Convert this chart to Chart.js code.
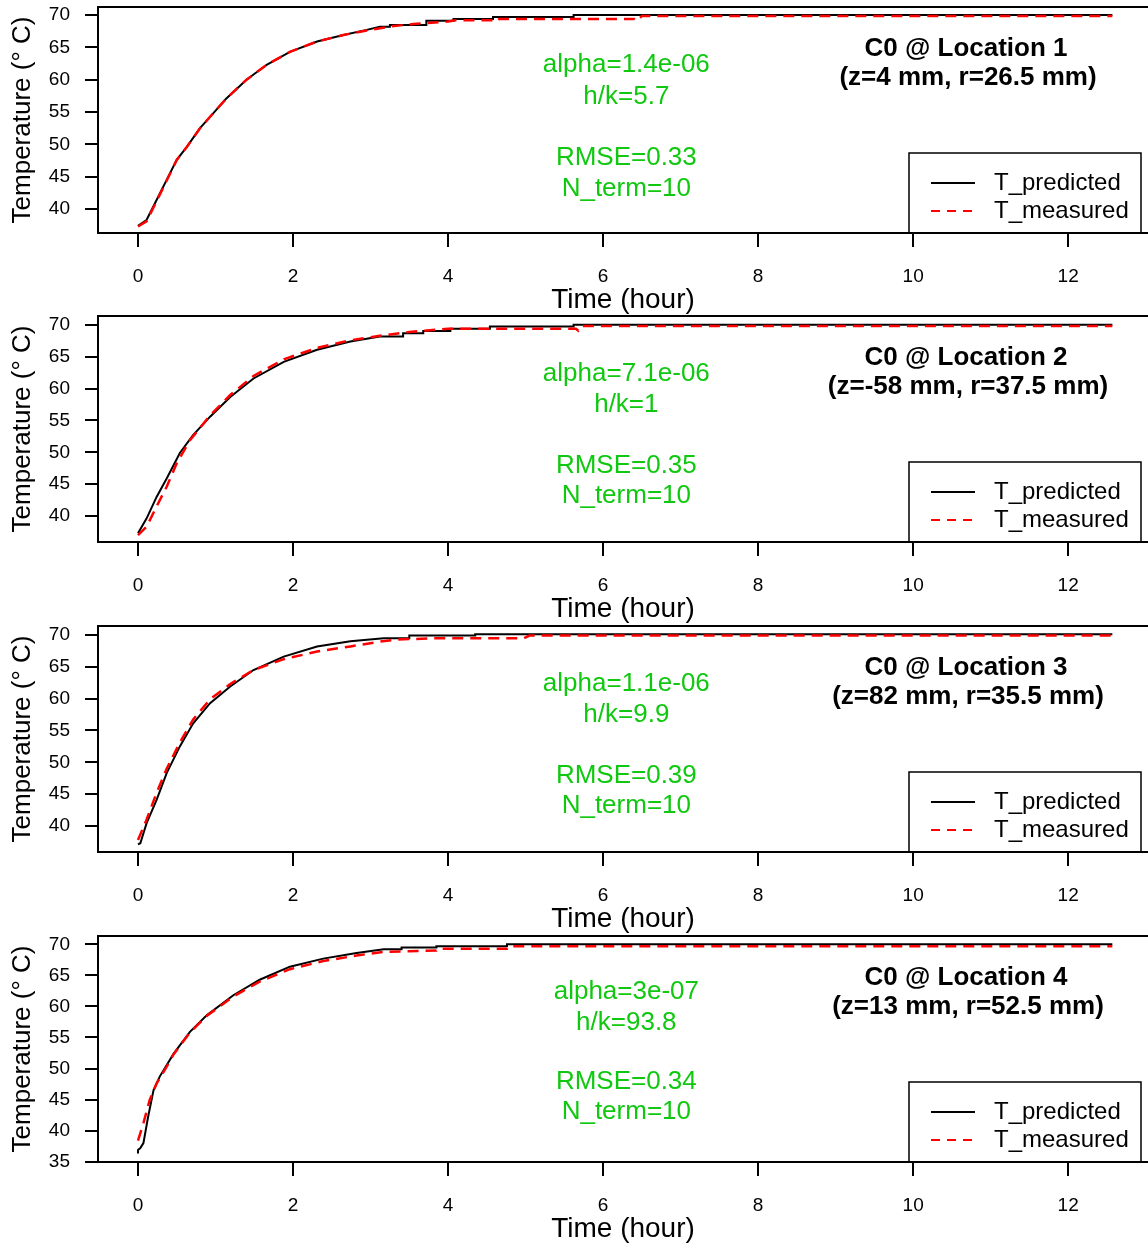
<!DOCTYPE html>
<html>
<head>
<meta charset="utf-8">
<script src="https://cdn.jsdelivr.net/npm/chart.js@4.4.0/dist/chart.umd.min.js"></script>
<style>
  html, body { margin: 0; padding: 0; background: #fff; }
  #wrap { position: relative; width: 1148px; height: 1245px; overflow: hidden; }
  .panel { position: absolute; left: 0; width: 1148px; height: 320px; }
</style>
</head>
<body>
<div id="wrap">
  <div class="panel" style="top:0px"><canvas id="c1" width="1148" height="320"></canvas></div>
  <div class="panel" style="top:309px"><canvas id="c2" width="1148" height="320"></canvas></div>
  <div class="panel" style="top:619px"><canvas id="c3" width="1148" height="320"></canvas></div>
  <div class="panel" style="top:929px"><canvas id="c4" width="1148" height="320"></canvas></div>
</div>
<script>
// time in hours, temperature in deg C
const predTime1 = [0, 0.11, 0.24, 0.37, 0.5, 0.63, 0.8, 0.97, 1.14, 1.4, 1.66, 1.96, 2.31, 2.65, 2.95, 3.12, 3.25, 3.25, 3.72, 3.72, 4.07, 4.07, 4.58, 4.58, 5.62, 5.62, 12.57];
const predTemp1 = [37.4, 38.3, 41.4, 44.5, 47.6, 49.6, 52.5, 54.8, 57.1, 60.0, 62.3, 64.3, 65.9, 66.9, 67.7, 68.2, 68.2, 68.45, 68.45, 69.1, 69.1, 69.4, 69.4, 69.7, 69.7, 70.0, 70.0];
const measTime1 = [0, 0.11, 0.24, 0.37, 0.5, 0.63, 0.8, 0.97, 1.14, 1.4, 1.66, 1.96, 2.31, 2.65, 2.95, 3.3, 3.55, 4.0, 4.1, 4.6, 4.63, 4.66, 6.4, 6.44, 6.5, 12.57];
const measTemp1 = [37.3, 38.1, 41.2, 44.4, 47.6, 49.6, 52.5, 54.8, 57.1, 60.0, 62.3, 64.3, 65.9, 66.9, 67.6, 68.3, 68.6, 69.0, 69.2, 69.2, 69.0, 69.4, 69.4, 69.1, 69.85, 69.85];

const predTime2 = [0, 0.11, 0.24, 0.37, 0.54, 0.71, 0.93, 1.19, 1.49, 1.88, 2.31, 2.74, 3.12, 3.42, 3.42, 3.68, 3.68, 4.03, 4.03, 4.54, 4.54, 5.62, 5.62, 12.57];
const predTemp2 = [37.3, 39.6, 43.0, 45.9, 49.9, 52.7, 55.6, 58.7, 61.6, 64.2, 66.1, 67.4, 68.2, 68.2, 68.7, 68.7, 69.05, 69.05, 69.4, 69.4, 69.75, 69.75, 70.05, 70.05];
const measTime2 = [0, 0.11, 0.24, 0.37, 0.5, 0.67, 0.93, 1.19, 1.49, 1.88, 2.31, 2.74, 3.12, 3.5, 4.0, 5.65, 5.68, 5.72, 12.57];
const measTemp2 = [37.0, 38.3, 41.5, 44.6, 48.3, 51.9, 55.8, 59.0, 62.0, 64.6, 66.4, 67.6, 68.3, 68.9, 69.4, 69.4, 69.1, 69.85, 69.85];

const predTime3 = [0, 0.03, 0.11, 0.24, 0.37, 0.54, 0.71, 0.93, 1.19, 1.49, 1.88, 2.31, 2.74, 3.17, 3.5, 3.5, 4.35, 4.35, 12.57];
const predTemp3 = [37.1, 37.3, 40.4, 44.1, 48.3, 52.5, 56.1, 59.3, 61.9, 64.5, 66.6, 68.2, 69.0, 69.5, 69.5, 69.9, 69.9, 70.1, 70.1];
const measTime3 = [0, 0.11, 0.24, 0.37, 0.54, 0.71, 0.93, 1.19, 1.49, 1.88, 2.31, 2.74, 3.12, 3.35, 3.9, 4.98, 5.05, 12.57];
const measTemp3 = [37.8, 41.0, 45.2, 49.0, 53.1, 56.7, 59.9, 62.3, 64.5, 66.2, 67.4, 68.2, 68.95, 69.3, 69.5, 69.5, 69.9, 69.9];

const predTime4 = [0, 0, 0.03, 0.07, 0.13, 0.2, 0.28, 0.46, 0.67, 0.89, 1.23, 1.57, 1.96, 2.39, 2.82, 3.17, 3.4, 3.4, 3.85, 3.85, 4.76, 4.76, 12.57];
const predTemp4 = [36.3, 36.9, 37.2, 38.0, 42.2, 46.5, 48.7, 52.4, 55.9, 58.6, 61.8, 64.3, 66.4, 67.7, 68.6, 69.2, 69.2, 69.5, 69.5, 69.7, 69.7, 70.0, 70.0];
const measTime4 = [0, 0.07, 0.15, 0.24, 0.37, 0.46, 0.67, 0.89, 1.23, 1.57, 1.96, 2.39, 2.82, 3.17, 3.85, 3.87, 4.76, 4.78, 12.57];
const measTemp4 = [38.4, 41.2, 44.9, 47.6, 50.3, 52.3, 55.8, 58.5, 61.6, 64.0, 66.0, 67.3, 68.2, 68.8, 69.0, 69.3, 69.3, 69.7, 69.7];

const xTicks = [0, 2, 4, 6, 8, 10, 12];
const yTicks = [40, 45, 50, 55, 60, 65, 70];
const yTicks4 = [35, 40, 45, 50, 55, 60, 65, 70];

const fitText1 = ['alpha=1.4e-06', 'h/k=5.7', 'RMSE=0.33', 'N_term=10'];
const fitText2 = ['alpha=7.1e-06', 'h/k=1', 'RMSE=0.35', 'N_term=10'];
const fitText3 = ['alpha=1.1e-06', 'h/k=9.9', 'RMSE=0.39', 'N_term=10'];
const fitText4 = ['alpha=3e-07', 'h/k=93.8', 'RMSE=0.34', 'N_term=10'];
const fitTextY = [62.3, 57.4, 47.9, 43.1];

const locText1 = ['C0 @ Location 1', '(z=4 mm, r=26.5 mm)'];
const locText2 = ['C0 @ Location 2', '(z=-58 mm, r=37.5 mm)'];
const locText3 = ['C0 @ Location 3', '(z=82 mm, r=35.5 mm)'];
const locText4 = ['C0 @ Location 4', '(z=13 mm, r=52.5 mm)'];

const seriesNames = ['T_predicted', 'T_measured'];

const FONT = '"Liberation Sans", Arial, Helvetica, sans-serif';
const GREEN = '#10C810';

function toPoints(ts, vs) {
    return ts.map((t, i) => ({ x: t, y: vs[i] }));
}

// box, fit text, location title and legend, drawn like the R base plot
const panelDecor = {
    id: 'panelDecor',
    afterDraw(chart, args, opts) {
        const ctx = chart.ctx;
        const a = chart.chartArea;
        const x = chart.scales.x;
        const y = chart.scales.y;
        ctx.save();

        // fit parameters
        ctx.fillStyle = GREEN;
        ctx.font = '26px ' + FONT;
        ctx.textAlign = 'center';
        ctx.textBaseline = 'middle';
        opts.fit.forEach((t, i) => {
            ctx.fillText(t, x.getPixelForValue(6.3), y.getPixelForValue(fitTextY[i]));
        });

        // location title
        ctx.fillStyle = '#000';
        ctx.font = 'bold 26px ' + FONT;
        ctx.fillText(opts.loc[0], 966, a.top + 42);
        ctx.fillText(opts.loc[1], 968, a.top + 71);

        // legend
        const lx = 909, ly = a.top + 146, lw = 232, lh = a.bottom - ly;
        ctx.fillStyle = '#fff';
        ctx.fillRect(lx, ly, lw, lh);
        ctx.strokeStyle = '#000';
        ctx.lineWidth = 1.5;
        ctx.strokeRect(lx, ly, lw, lh);

        ctx.lineWidth = 2;
        ctx.beginPath();
        ctx.moveTo(931, a.top + 176);
        ctx.lineTo(975, a.top + 176);
        ctx.stroke();

        ctx.strokeStyle = '#FF0000';
        ctx.setLineDash([9, 7]);
        ctx.beginPath();
        ctx.moveTo(931, a.top + 204);
        ctx.lineTo(975, a.top + 204);
        ctx.stroke();
        ctx.setLineDash([]);

        ctx.fillStyle = '#000';
        ctx.font = '24px ' + FONT;
        ctx.textAlign = 'left';
        ctx.fillText(seriesNames[0], 994, a.top + 176);
        ctx.fillText(seriesNames[1], 994, a.top + 204);

        // plot box (right side runs off the page)
        ctx.strokeStyle = '#000';
        ctx.lineWidth = 2;
        ctx.beginPath();
        ctx.moveTo(a.right + 4, a.top);
        ctx.lineTo(a.left, a.top);
        ctx.lineTo(a.left, a.bottom);
        ctx.lineTo(a.right + 4, a.bottom);
        ctx.stroke();

        ctx.restore();
    }
};

function makePanel(id, predT, predV, measT, measV, yMin, yMax, ticksY, fit, loc) {
    const ctx = document.getElementById(id).getContext('2d');
    return new Chart(ctx, {
        type: 'line',
        data: {
            datasets: [{
                label: seriesNames[0],
                data: toPoints(predT, predV),
                borderColor: '#000',
                borderWidth: 2,
                pointRadius: 0,
                tension: 0,
                order: 1
            }, {
                label: seriesNames[1],
                data: toPoints(measT, measV),
                borderColor: '#FF0000',
                borderWidth: 2.5,
                borderDash: [11, 7],
                pointRadius: 0,
                tension: 0,
                order: 0
            }]
        },
        options: {
            responsive: false,
            animation: false,
            devicePixelRatio: 1,
            layout: { padding: { top: 7, right: 0, left: 0, bottom: 0 } },
            plugins: {
                legend: { display: false },
                tooltip: { enabled: false },
                panelDecor: { fit: fit, loc: loc }
            },
            scales: {
                x: {
                    type: 'linear',
                    min: -0.516,
                    max: 13.03,
                    afterBuildTicks: s => { s.ticks = xTicks.map(v => ({ value: v })); },
                    afterFit: s => { s.height = 87; s.paddingLeft = 0; s.paddingRight = 0; },
                    border: { display: false },
                    grid: { drawOnChartArea: false, drawTicks: true, tickLength: 14, color: '#000', lineWidth: 2 },
                    ticks: { color: '#000', font: { family: FONT, size: 19 }, padding: 18, maxRotation: 0, autoSkip: false },
                    title: { display: true, text: 'Time (hour)', color: '#000', font: { family: FONT, size: 28 }, padding: { top: 0, bottom: 3 } }
                },
                y: {
                    min: yMin,
                    max: yMax,
                    afterBuildTicks: s => { s.ticks = ticksY.map(v => ({ value: v })); },
                    afterFit: s => { s.width = 98; s.paddingTop = 0; s.paddingBottom = 0; },
                    border: { display: false },
                    grid: { drawOnChartArea: false, drawTicks: true, tickLength: 13, color: '#000', lineWidth: 2 },
                    ticks: { color: '#000', font: { family: FONT, size: 19 }, padding: 15, autoSkip: false },
                    title: { display: true, text: 'Temperature (\u00B0 C)', color: '#000', font: { family: FONT, size: 26 }, padding: { top: 7, bottom: 0 } }
                }
            }
        },
        plugins: [panelDecor]
    });
}

makePanel('c1', predTime1, predTemp1, measTime1, measTemp1, 36.29, 71.24, yTicks, fitText1, locText1);
makePanel('c2', predTime2, predTemp2, measTime2, measTemp2, 35.92, 71.41, yTicks, fitText2, locText2);
makePanel('c3', predTime3, predTemp3, measTime3, measTemp3, 35.92, 71.41, yTicks, fitText3, locText3);
makePanel('c4', predTime4, predTemp4, measTime4, measTemp4, 34.95, 71.34, yTicks4, fitText4, locText4);
</script>
</body>
</html>
